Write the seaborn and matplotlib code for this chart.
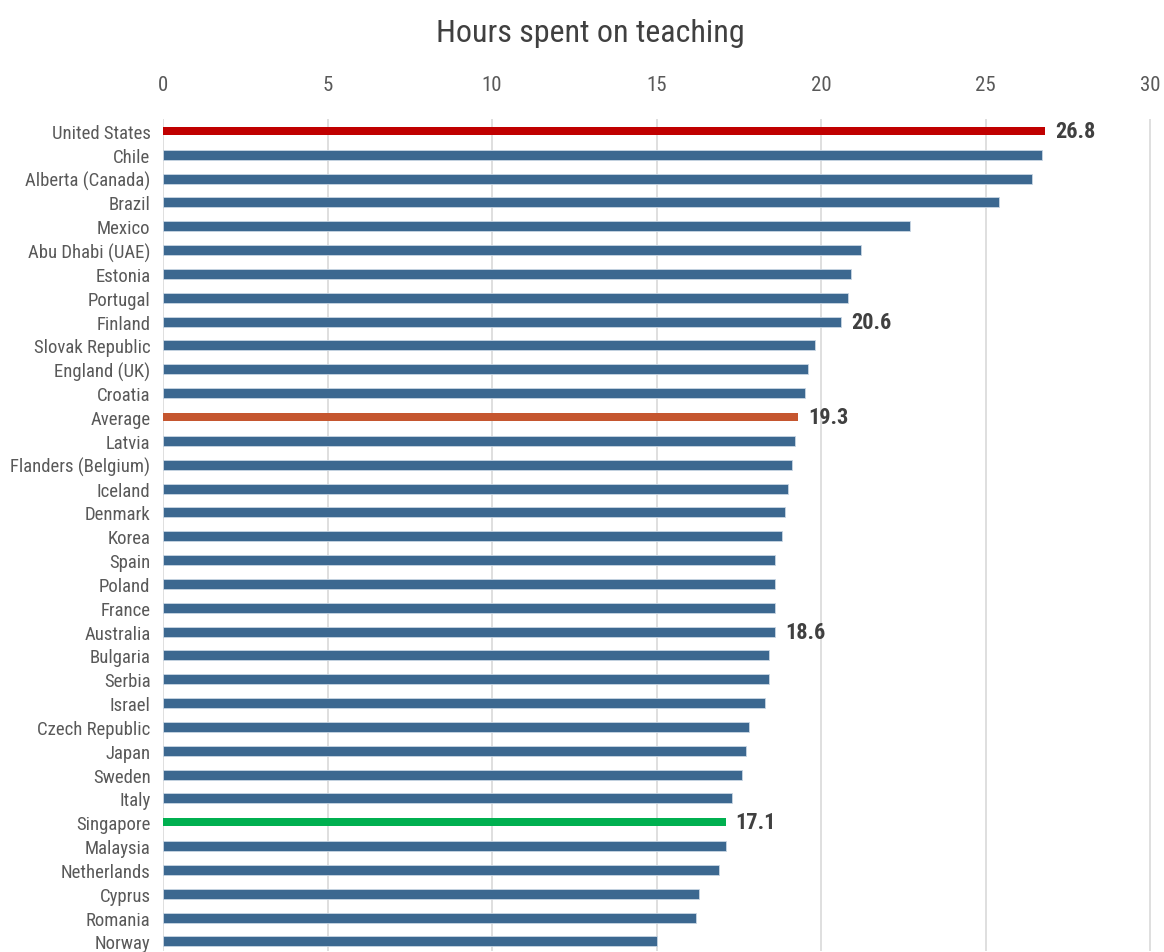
import matplotlib
matplotlib.use("Agg")
import matplotlib.pyplot as plt
import seaborn as sns
import pandas as pd
from matplotlib import font_manager

countries = ["United States", "Chile", "Alberta (Canada)", "Brazil", "Mexico",
             "Abu Dhabi (UAE)", "Estonia", "Portugal", "Finland", "Slovak Republic",
             "England (UK)", "Croatia", "Average", "Latvia", "Flanders (Belgium)",
             "Iceland", "Denmark", "Korea", "Spain", "Poland", "France", "Australia",
             "Bulgaria", "Serbia", "Israel", "Czech Republic", "Japan", "Sweden",
             "Italy", "Singapore", "Malaysia", "Netherlands", "Cyprus", "Romania",
             "Norway"]
hours = [26.8, 26.7, 26.4, 25.4, 22.7,
         21.2, 20.9, 20.8, 20.6, 19.8,
         19.6, 19.5, 19.3, 19.2, 19.1,
         19.0, 18.9, 18.8, 18.6, 18.6, 18.6, 18.6,
         18.4, 18.4, 18.3, 17.8, 17.7, 17.6,
         17.3, 17.1, 17.1, 16.9, 16.3, 16.2,
         15.0]
highlight_colors = {"United States": "#C00000", "Average": "#C5562F", "Singapore": "#00B050"}
labelled = ["United States", "Finland", "Average", "Australia", "Singapore"]
xticks = [0, 5, 10, 15, 20, 25, 30]
title = "Hours spent on teaching"

base_color = "#3C6890"

sns.set_theme(style="white")

# look for a condensed font
cond = None
for f in font_manager.fontManager.ttflist:
    if f.name in ("Liberation Sans Narrow", "Roboto Condensed", "Open Sans Condensed",
                  "DejaVu Sans Condensed", "Noto Sans Condensed"):
        cond = (f.name, "normal")
        break
if cond is None:
    for f in font_manager.fontManager.ttflist:
        st = str(f.stretch).lower()
        if f.name in ("Roboto", "Open Sans", "Noto Sans", "DejaVu Sans", "Inter") and \
                (st in ("condensed", "semi-condensed", "extra-condensed") or
                 (st.isdigit() and int(st) < 500)):
            cond = (f.name, st)
            break
if cond is not None:
    plt.rcParams["font.family"] = [cond[0], "DejaVu Sans"]
    plt.rcParams["font.stretch"] = cond[1] if not cond[1].isdigit() else int(cond[1])
    tick_size, xtick_size, val_size, title_size = 13.5, 15, 16, 23
else:
    plt.rcParams["font.family"] = ["Liberation Sans", "DejaVu Sans"]
    tick_size, xtick_size, val_size, title_size = 12.5, 14, 15, 22

df = pd.DataFrame({"country": countries, "hours": hours})
palette = {c: highlight_colors.get(c, base_color) for c in countries}

fig = plt.figure(figsize=(11.64, 9.53), dpi=100)
ax = fig.add_axes([163 / 1164, 1 - 952 / 953, (1152 - 163) / 1164, (952 - 120) / 953])

sns.barplot(data=df, x="hours", y="country", hue="country", palette=palette,
            legend=False, width=0.42, ax=ax, saturation=1, zorder=3,
            edgecolor="#C9D6E3", linewidth=0.6)

# thinner highlighted bars
for patch, c in zip(ax.patches, countries):
    if c in highlight_colors:
        yc = patch.get_y() + patch.get_height() / 2
        h = 0.32
        patch.set_y(yc - h / 2)
        patch.set_height(h)
        patch.set_edgecolor("none")

for i, (c, v) in enumerate(zip(countries, hours)):
    if c in labelled:
        ax.text(v + 0.3, i, f"{v:.1f}", va="center", ha="left", fontsize=val_size,
                fontweight="bold", color="#404040")

ax.set_xlim(0, 30.05)
ax.set_ylim(34.4, -0.5)
ax.set_xticks(xticks)
ax.set_xticklabels([str(t) for t in xticks])
ax.xaxis.tick_top()
ax.tick_params(axis="x", length=0, pad=18, labelsize=xtick_size, colors="#595959")
ax.tick_params(axis="y", length=0, pad=9, labelsize=tick_size, colors="#595959")
ax.set_xlabel("")
ax.set_ylabel("")
ax.grid(axis="x", color="#D9D9D9", linewidth=1.2, zorder=0)
ax.set_axisbelow(True)
for s in ax.spines.values():
    s.set_visible(False)

fig.text(590 / 1164, 1 - 33 / 953, title, ha="center", va="center",
         fontsize=title_size, color="#404040")

fig.savefig("out.png", dpi=100)
